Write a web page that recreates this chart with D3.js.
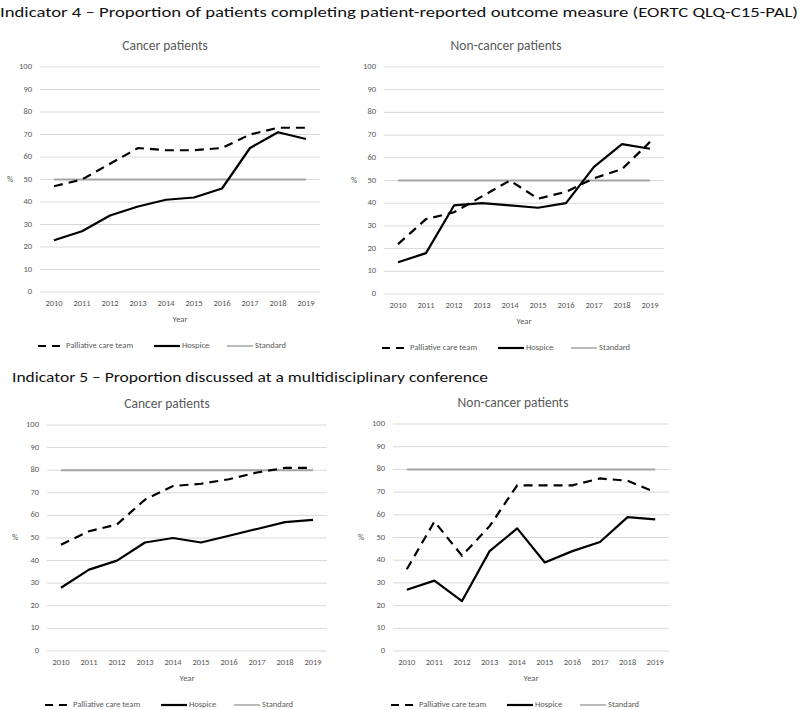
<!DOCTYPE html>
<html>
<head>
<meta charset="utf-8">
<script src="https://cdn.jsdelivr.net/npm/d3@7"></script>
<style>
  body { margin: 0; background: #fff; }
  svg { display: block; font-family: Carlito, "Liberation Sans", Arial, sans-serif; }
</style>
</head>
<body>
<svg id="chart" width="800" height="710"></svg>
<script>
const years = [2010, 2011, 2012, 2013, 2014, 2015, 2016, 2017, 2018, 2019];
const yTicks = [0, 10, 20, 30, 40, 50, 60, 70, 80, 90, 100];

// Indicator 4 - PROM completion
const ind4CancerPalliative = [47, 50, 57, 64, 63, 63, 64, 70, 73, 73];
const ind4CancerHospice = [23, 27, 34, 38, 41, 42, 46, 64, 71, 68];
const ind4NonCancerPalliative = [22, 33, 36, 43, 50, 42, 45, 51, 55, 67];
const ind4NonCancerHospice = [14, 18, 39, 40, 39, 38, 40, 56, 66, 64];
const ind4Standard = 50;

// Indicator 5 - multidisciplinary conference
const ind5CancerPalliative = [47, 53, 56, 67, 73, 74, 76, 79, 81, 81];
const ind5CancerHospice = [28, 36, 40, 48, 50, 48, 51, 54, 57, 58];
const ind5NonCancerPalliative = [36, 57, 42, 55, 73, 73, 73, 76, 75, 70];
const ind5NonCancerHospice = [27, 31, 22, 44, 54, 39, 44, 48, 59, 58];
const ind5Standard = 80;

const legendLabels = ["Palliative care team", "Hospice", "Standard"];

const svg = d3.select("#chart");

const greyText = "#595959";
const gridCol = "#d9d9d9";
const stdCol = "#a5a5a5";
const small = "8.5px";

// section titles
svg.append("text")
  .attr("x", 0).attr("y", 17)
  .attr("textLength", 798).attr("lengthAdjust", "spacingAndGlyphs")
  .style("font-size", "15px").style("fill", "#111")
  .text("Indicator 4 \u2013 Proportion of patients completing patient-reported outcome measure (EORTC QLQ-C15-PAL)");

svg.append("text")
  .attr("x", 12).attr("y", 382)
  .attr("textLength", 476).attr("lengthAdjust", "spacingAndGlyphs")
  .style("font-size", "15px").style("fill", "#111")
  .text("Indicator 5 \u2013 Proportion discussed at a multidisciplinary conference");

function drawPanel(p) {
  const g = svg.append("g");

  const x = d3.scaleBand().domain(years).range([p.left, p.right]);
  const y = d3.scaleLinear().domain([0, 100]).range([p.bottom, p.top]);
  const cx = d => x(d) + x.bandwidth() / 2;

  // gridlines
  g.selectAll(".grid").data(yTicks).enter()
    .append("line")
    .attr("x1", p.left).attr("x2", p.right)
    .attr("y1", d => y(d)).attr("y2", d => y(d))
    .attr("stroke", gridCol).attr("stroke-width", 1);

  // y tick labels
  g.selectAll(".ytick").data(yTicks).enter()
    .append("text")
    .attr("x", p.left - 8).attr("y", d => y(d))
    .attr("text-anchor", "end").attr("dominant-baseline", "middle")
    .style("font-size", small).style("fill", greyText)
    .text(d => d);

  // x tick labels
  g.selectAll(".xtick").data(years).enter()
    .append("text")
    .attr("x", d => cx(d)).attr("y", p.bottom + 12)
    .attr("text-anchor", "middle").attr("dominant-baseline", "middle")
    .style("font-size", small).style("fill", greyText)
    .text(d => d);

  g.append("text")
    .attr("x", (p.left + p.right) / 2).attr("y", p.bottom + 28)
    .attr("text-anchor", "middle").attr("dominant-baseline", "middle")
    .style("font-size", small).style("fill", greyText)
    .text("Year");

  g.append("text")
    .attr("x", p.pctX).attr("y", y(50))
    .attr("text-anchor", "middle").attr("dominant-baseline", "middle")
    .style("font-size", small).style("fill", greyText)
    .text("%");

  g.append("text")
    .attr("x", p.titleX).attr("y", p.top - 20)
    .attr("text-anchor", "middle").attr("dominant-baseline", "middle")
    .style("font-size", "13.5px").style("fill", greyText)
    .text(p.title);

  const line = d3.line().x((d, i) => cx(years[i])).y(d => y(d));

  // standard
  g.append("path")
    .datum(years.map(() => p.standard))
    .attr("d", line).attr("fill", "none")
    .attr("stroke", stdCol).attr("stroke-width", 2);

  g.append("path")
    .datum(p.hospice)
    .attr("d", line).attr("fill", "none")
    .attr("stroke", "#000").attr("stroke-width", 2.2)
    .attr("stroke-linejoin", "round");

  g.append("path")
    .datum(p.palliative)
    .attr("d", line).attr("fill", "none")
    .attr("stroke", "#000").attr("stroke-width", 2.2)
    .attr("stroke-dasharray", "9,6");

  // legend
  const ly = p.bottom + 54;
  const items = [
    { off: -2, stroke: "#000", w: 2.2, dash: "8,6" },
    { off: 114, stroke: "#000", w: 2.2, dash: null },
    { off: 187, stroke: stdCol, w: 1.5, dash: null }
  ];
  items.forEach((it, i) => {
    const lx = p.left + it.off;
    g.append("line")
      .attr("x1", lx).attr("x2", lx + 26)
      .attr("y1", ly).attr("y2", ly)
      .attr("stroke", it.stroke).attr("stroke-width", it.w)
      .attr("stroke-dasharray", it.dash);
    g.append("text")
      .attr("x", lx + 28).attr("y", ly)
      .attr("dominant-baseline", "middle")
      .style("font-size", small).style("fill", greyText)
      .text(legendLabels[i]);
  });
}

drawPanel({ title: "Cancer patients", left: 40, right: 320, top: 67, bottom: 292,
  titleX: 165, pctX: 10, palliative: ind4CancerPalliative, hospice: ind4CancerHospice, standard: ind4Standard });
drawPanel({ title: "Non-cancer patients", left: 384, right: 664, top: 67, bottom: 294,
  titleX: 506, pctX: 354, palliative: ind4NonCancerPalliative, hospice: ind4NonCancerHospice, standard: ind4Standard });
drawPanel({ title: "Cancer patients", left: 47, right: 327, top: 425, bottom: 651,
  titleX: 167, pctX: 15, palliative: ind5CancerPalliative, hospice: ind5CancerHospice, standard: ind5Standard });
drawPanel({ title: "Non-cancer patients", left: 393, right: 669, top: 424, bottom: 651,
  titleX: 513, pctX: 361, palliative: ind5NonCancerPalliative, hospice: ind5NonCancerHospice, standard: ind5Standard });
</script>
</body>
</html>
